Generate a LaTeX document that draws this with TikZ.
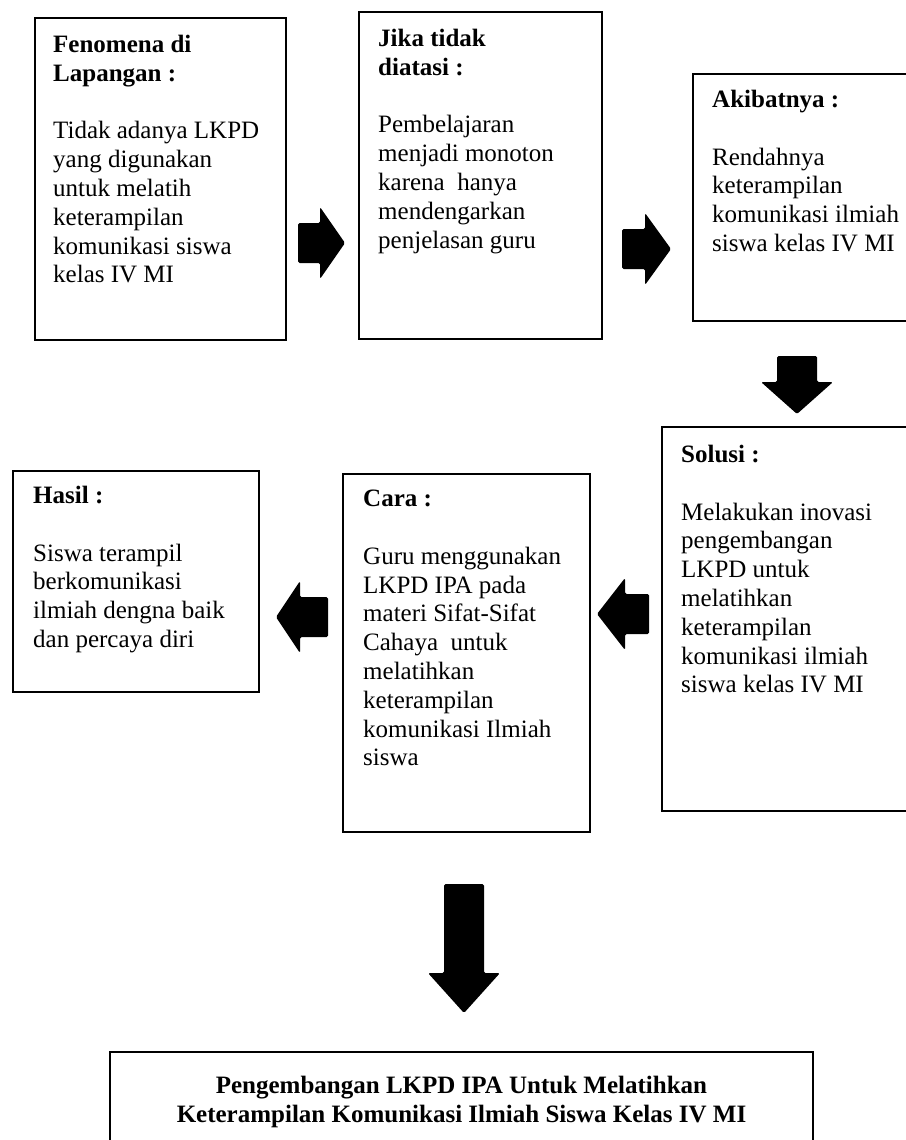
\documentclass[tikz,border=0pt]{standalone}
\usepackage{fontspec}
\setmainfont{Liberation Serif}

\begin{document}
\begin{tikzpicture}[x=1pt, y=-1pt,
  box/.style = {draw, line width=2pt, inner sep=0pt, outer sep=0pt,
    anchor=north west},
  txt/.style = {anchor=north west, align=left, inner sep=0pt,
    font=\fontsize{25}{28.8}\selectfont},
  pics/blockarrow/.style 2 args = {code={
    \fill[rounded corners=1.5pt] (0,0) -- (-#2,-36) -- (-#2,-20) -- (-#1,-20)
      -- (-#1,20) -- (-#2,20) -- (-#2,36) -- cycle;}}]
  \path[use as bounding box, fill=white] (0,0) rectangle (905,1140);

  % top row
  \node[box, minimum width=251pt, minimum height=322pt] (fen) at (35,18) {};
  \node[txt] (fentxt) at ([shift={(18,17)}]fen.north west)
    {\textbf{Fenomena di}\\\textbf{Lapangan :}\\[28.8pt]
     Tidak adanya LKPD\\yang digunakan\\untuk melatih\\keterampilan\\
     komunikasi siswa\\kelas IV MI};
  \node[box, minimum width=243pt, minimum height=327pt] (jika) at (359,12) {};
  \node[txt] (jikatxt) at ([shift={(19,17)}]jika.north west)
    {\textbf{Jika tidak}\\\textbf{diatasi :}\\[28.8pt]
     Pembelajaran\\menjadi monoton\\karena\ \ hanya\\mendengarkan\\penjelasan guru};
  \node[box, minimum width=219pt, minimum height=247pt] (akibat) at (693,74) {};
  \node[txt] (akibattxt) at ([shift={(19,16)}]akibat.north west)
    {\textbf{Akibatnya :}\\[28.8pt]
     Rendahnya\\keterampilan\\komunikasi ilmiah\\siswa kelas IV MI};

  % middle row
  \node[box, minimum width=250pt, minimum height=384pt] (solusi) at (662,427) {};
  \node[txt] (solusitxt) at ([shift={(19,18)}]solusi.north west)
    {\textbf{Solusi :}\\[28.8pt]
     Melakukan inovasi\\pengembangan\\LKPD untuk\\melatihkan\\keterampilan\\
     komunikasi ilmiah\\siswa kelas IV MI};
  \node[box, minimum width=247pt, minimum height=358pt] (cara) at (343,474) {};
  \node[txt] (caratxt) at ([shift={(20,16)}]cara.north west)
    {\textbf{Cara :}\\[28.8pt]
     Guru menggunakan\\LKPD IPA pada\\materi Sifat-Sifat\\Cahaya\ \ untuk\\
     melatihkan\\keterampilan\\komunikasi Ilmiah\\siswa};
  \node[box, minimum width=246pt, minimum height=221pt] (hasil) at (13,471) {};
  \node[txt] (hasiltxt) at ([shift={(20,15)}]hasil.north west)
    {\textbf{Hasil :}\\[28.8pt]
     Siswa terampil\\berkomunikasi\\ilmiah dengna baik\\dan percaya diri};

  % bottom
  \node[box, minimum width=703pt, minimum height=98pt] (judul) at (110,1052) {};
  \node[txt, anchor=north, align=center, font=\fontsize{25}{28.8}\selectfont\bfseries]
    (judultxt) at ([shift={(0,24)}]judul.north)
    {Pengembangan LKPD IPA Untuk Melatihkan\\
     Keterampilan Komunikasi Ilmiah Siswa Kelas IV MI};

  % arrows
  \pic (ar1) at (345,243) {blockarrow={47}{25}};
  \pic (ar2) at (671,249) {blockarrow={49}{26}};
  \pic[rotate=-90] (ar3) at (797,414) {blockarrow={58}{32}};
  \pic[rotate=180] (ar4) at (597,614) {blockarrow={52}{28}};
  \pic[rotate=180] (ar5) at (276,617) {blockarrow={52}{24}};
  \pic[rotate=-90] (ar6) at (464,1013) {blockarrow={129}{40}};
\end{tikzpicture}
\end{document}
